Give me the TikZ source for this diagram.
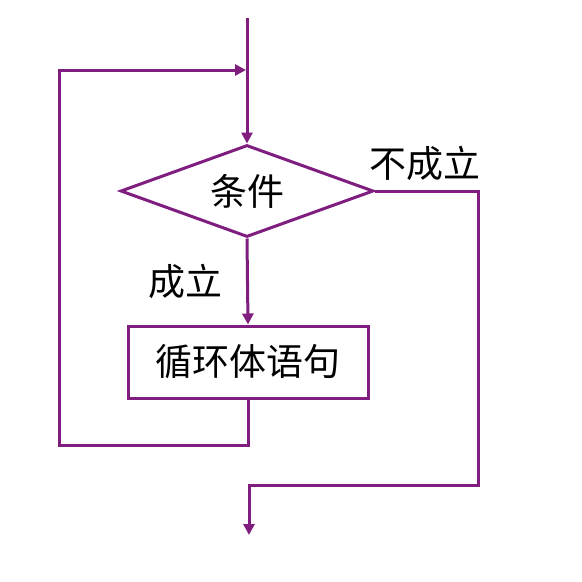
\documentclass[tikz,border=0pt]{standalone}
\usepackage{fontspec}
\newfontfamily\cjk{Noto Sans CJK SC}
\usetikzlibrary{shapes.geometric,arrows.meta}
\definecolor{flowpurple}{RGB}{128,30,128}
\begin{document}
\begin{tikzpicture}[x=1pt, y=-1pt, font=\cjk\fontsize{37}{42}\selectfont, line join=miter, >={Triangle[length=11pt,width=11pt]}]
\tikzset{flowline/.style={draw=flowpurple, line width=3pt},
  decision/.style={flowline, diamond, aspect=2.75, minimum width=253pt, minimum height=92pt, inner sep=0pt},
  process/.style={flowline, rectangle, minimum width=240pt, minimum height=72pt, inner sep=0pt}}
\useasboundingbox (0,0) rectangle (582,582);
\node[decision] (cond) at (247,191) {条件};
\node[process] (body) at (248,362) {循环体语句};
\coordinate (entry) at (247,18);
\coordinate (join) at (246,70);
\coordinate (loopend) at (59,445);
\coordinate (turn) at (478,485);
\coordinate (exit) at (249,535);
\draw[flowline,->] (entry)--(cond.north);
\draw[flowline,->] (cond.south)--(body.north);
\draw[flowline,->] (body.south) |- (loopend) |- (join);
\draw[flowline,->] (cond.east) -| (turn) -| (exit);
\node (yes) at (185,281) {成立};
\node (no) at (425,163) {不成立};
\end{tikzpicture}
\end{document}
